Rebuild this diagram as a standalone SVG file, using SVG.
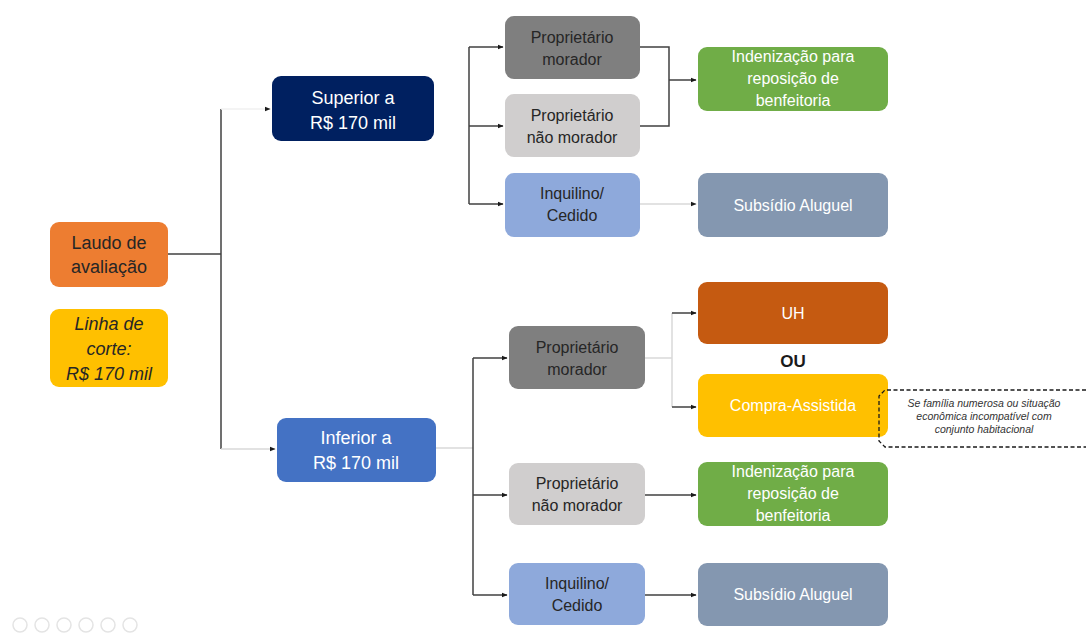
<svg xmlns="http://www.w3.org/2000/svg" width="1086" height="635" viewBox="0 0 1086 635">
<defs>
<marker id="arr" viewBox="0 0 10 10" refX="9" refY="5" markerWidth="6" markerHeight="6" orient="auto" markerUnits="userSpaceOnUse">
<path d="M0,1 L10,5 L0,9 z" fill="#1a1a1a"/>
</marker>
<style>
text{font-family:"Liberation Sans","Open Sans",Arial,sans-serif;text-anchor:middle;}
.t18{font-size:18px;}
.t16{font-size:16px;}
.w{fill:#ffffff;}
.d{fill:#262626;}
.ln{fill:none;stroke:#404040;stroke-width:1.5;}
.lt{fill:none;stroke:#d9d9d9;stroke-width:1.5;}
.lx{fill:none;stroke:#f0f0f0;stroke-width:1.5;}
.ic{fill:none;stroke:#e4e4e4;stroke-width:1.5;}
.nt{font-size:10.5px;font-style:italic;fill:#333333;}
</style>
</defs>
<rect width="1086" height="635" fill="#ffffff"/>

<g id="connectors">
<path class="ln" d="M168,254 H221"/>
<path class="ln" d="M221,109 V449"/>
<path class="lx" d="M221,109 H270" marker-end="url(#arr)"/>
<path class="lt" d="M221,449 H275" marker-end="url(#arr)"/>
<path class="ln" d="M469,47 V204"/>
<path class="ln" d="M469,47 H503" marker-end="url(#arr)"/>
<path class="ln" d="M469,126 H503" marker-end="url(#arr)"/>
<path class="ln" d="M469,204 H503" marker-end="url(#arr)"/>
<path class="ln" d="M640,47 H669 V126 H640"/>
<path class="ln" d="M669,80 H696" marker-end="url(#arr)"/>
<path class="lt" d="M640,204 H696" marker-end="url(#arr)"/>
<path class="lt" d="M436,448 H473"/>
<path class="ln" d="M473,358 V595"/>
<path class="ln" d="M473,358 H507" marker-end="url(#arr)"/>
<path class="ln" d="M473,495 H507" marker-end="url(#arr)"/>
<path class="ln" d="M473,595 H507" marker-end="url(#arr)"/>
<path class="lt" d="M645,358 H672"/>
<path class="lt" d="M672,313 V407"/>
<path class="ln" d="M672,313 H696" marker-end="url(#arr)"/>
<path class="ln" d="M672,407 H696" marker-end="url(#arr)"/>
<path class="ln" d="M645,495 H696" marker-end="url(#arr)"/>
<path class="ln" d="M645,595 H696" marker-end="url(#arr)"/>
</g>

<g id="laudo">
<rect x="50" y="222" width="118" height="65" rx="9" fill="#ED7D31"/>
<text class="t18 d" x="109" y="249">Laudo de</text>
<text class="t18 d" x="109" y="273">avaliação</text>
</g>
<g id="linha-corte">
<rect x="50" y="309" width="118" height="78" rx="9" fill="#FFC000"/>
<text class="t18 d" x="109" y="330" font-style="italic">Linha de</text>
<text class="t18 d" x="109" y="355" font-style="italic">corte:</text>
<text class="t18 d" x="109" y="380" font-style="italic">R$ 170 mil</text>
</g>
<g id="superior">
<rect x="272" y="76" width="162" height="65" rx="9" fill="#002060"/>
<text class="t18 w" x="353" y="104">Superior a</text>
<text class="t18 w" x="353" y="129">R$ 170 mil</text>
</g>
<g id="inferior">
<rect x="277" y="418" width="159" height="64" rx="9" fill="#4472C4"/>
<text class="t18 w" x="356" y="444">Inferior a</text>
<text class="t18 w" x="356" y="469">R$ 170 mil</text>
</g>

<g id="prop-morador-1">
<rect x="505" y="16" width="135" height="63" rx="9" fill="#7F7F7F"/>
<text class="t16 d" x="572" y="43">Proprietário</text>
<text class="t16 d" x="572" y="65">morador</text>
</g>
<g id="prop-nao-morador-1">
<rect x="505" y="94" width="135" height="63" rx="9" fill="#D0CECE"/>
<text class="t16 d" x="572" y="121">Proprietário</text>
<text class="t16 d" x="572" y="143">não morador</text>
</g>
<g id="inquilino-1">
<rect x="505" y="173" width="135" height="64" rx="9" fill="#8EA9DB"/>
<text class="t16 d" x="572" y="199">Inquilino/</text>
<text class="t16 d" x="572" y="221">Cedido</text>
</g>
<g id="indenizacao-1">
<rect x="698" y="47" width="190" height="64" rx="9" fill="#70AD47"/>
<text class="t16 w" x="793" y="62">Indenização para</text>
<text class="t16 w" x="793" y="84">reposição de</text>
<text class="t16 w" x="793" y="106">benfeitoria</text>
</g>
<g id="subsidio-1">
<rect x="698" y="173" width="190" height="64" rx="9" fill="#8497B0"/>
<text class="t16 w" x="793" y="211">Subsídio Aluguel</text>
</g>

<g id="prop-morador-2">
<rect x="509" y="326" width="136" height="63" rx="9" fill="#7F7F7F"/>
<text class="t16 d" x="577" y="353">Proprietário</text>
<text class="t16 d" x="577" y="375">morador</text>
</g>
<g id="prop-nao-morador-2">
<rect x="509" y="463" width="136" height="62" rx="9" fill="#D0CECE"/>
<text class="t16 d" x="577" y="489">Proprietário</text>
<text class="t16 d" x="577" y="511">não morador</text>
</g>
<g id="inquilino-2">
<rect x="509" y="563" width="136" height="62" rx="9" fill="#8EA9DB"/>
<text class="t16 d" x="577" y="589">Inquilino/</text>
<text class="t16 d" x="577" y="611">Cedido</text>
</g>
<g id="uh">
<rect x="698" y="282" width="190" height="62" rx="9" fill="#C55A11"/>
<text class="t16 w" x="793" y="319">UH</text>
</g>
<g id="ou">
<text x="793" y="367" font-size="17" font-weight="bold" fill="#1a1a1a">OU</text>
</g>
<g id="compra-assistida">
<rect x="698" y="374" width="190" height="63" rx="9" fill="#FFC000"/>
<text class="t16 w" x="793" y="411">Compra-Assistida</text>
</g>
<g id="indenizacao-2">
<rect x="698" y="462" width="190" height="64" rx="9" fill="#70AD47"/>
<text class="t16 w" x="793" y="477">Indenização para</text>
<text class="t16 w" x="793" y="499">reposição de</text>
<text class="t16 w" x="793" y="521">benfeitoria</text>
</g>
<g id="subsidio-2">
<rect x="698" y="563" width="190" height="63" rx="9" fill="#8497B0"/>
<text class="t16 w" x="793" y="600">Subsídio Aluguel</text>
</g>

<g id="nota">
<path d="M1086,390 H885 L879,396 V441 L885,447 H1086" fill="none" stroke="#1a1a1a" stroke-width="1.3" stroke-dasharray="4,2.5"/>
<text class="nt" x="984" y="407">Se família numerosa ou situação</text>
<text class="nt" x="984" y="420">econômica incompatível com</text>
<text class="nt" x="984" y="433">conjunto habitacional</text>
</g>

<g id="controles">
<circle class="ic" cx="20" cy="625" r="7"/>
<circle class="ic" cx="42" cy="625" r="7"/>
<circle class="ic" cx="64" cy="625" r="7"/>
<circle class="ic" cx="86" cy="625" r="7"/>
<circle class="ic" cx="108" cy="625" r="7"/>
<circle class="ic" cx="130" cy="625" r="7"/>
</g>
</svg>
